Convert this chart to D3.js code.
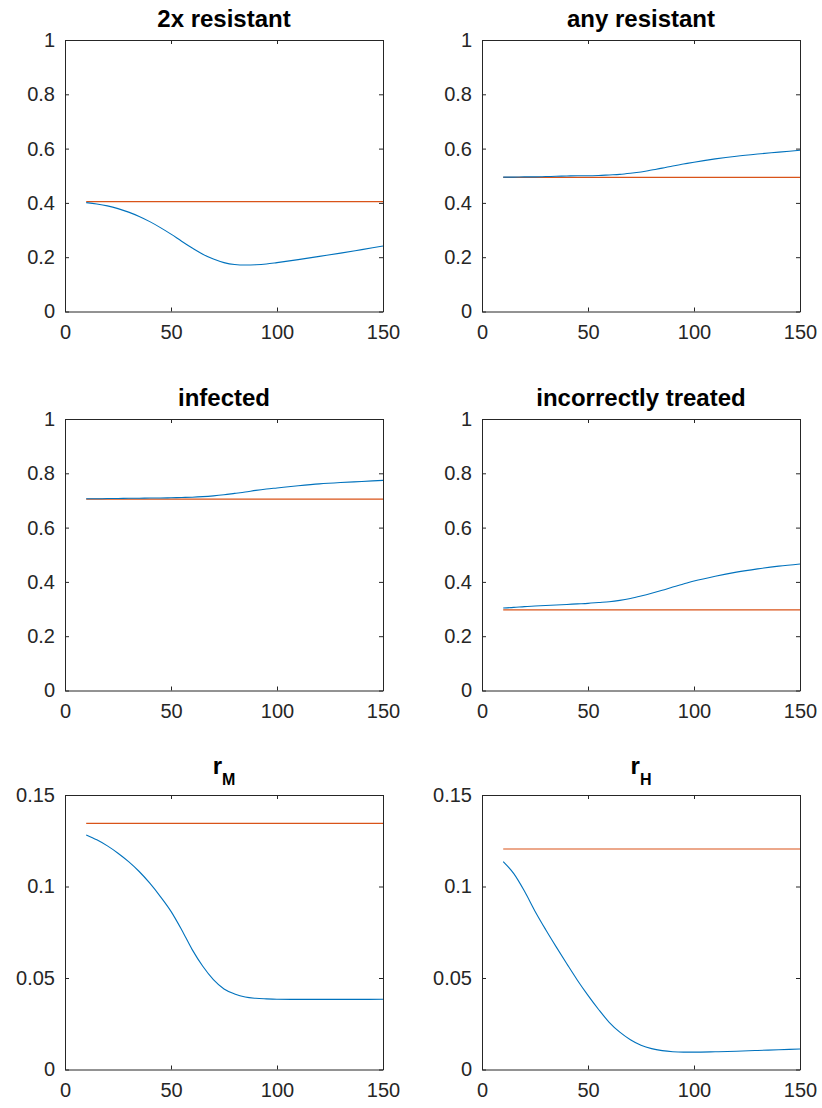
<!DOCTYPE html>
<html>
<head>
<meta charset="utf-8">
<script src="https://cdn.jsdelivr.net/npm/d3@7"></script>
<style>
  html, body { margin: 0; padding: 0; background: #fff; }
  svg { display: block; }
  text { font-family: "Liberation Sans", Arial, Helvetica, sans-serif; }
</style>
</head>
<body>
<svg id="chart" width="822" height="1108"></svg>
<script>
// ---- data ----
const xs = [10,15,20,25,30,35,40,45,50,55,60,65,70,75,80,85,90,95,100,110,120,130,140,150];

const twoxResistant   = [0.401,0.396,0.389,0.379,0.366,0.350,0.331,0.309,0.285,0.259,0.234,0.211,0.193,0.180,0.173,0.171,0.172,0.175,0.180,0.191,0.203,0.215,0.228,0.241];
const anyResistant    = [0.495,0.495,0.496,0.496,0.497,0.498,0.499,0.500,0.500,0.501,0.503,0.505,0.509,0.514,0.521,0.528,0.536,0.543,0.550,0.562,0.572,0.580,0.587,0.594];
const infected        = [0.706,0.706,0.707,0.707,0.708,0.708,0.709,0.709,0.710,0.711,0.712,0.714,0.717,0.721,0.726,0.731,0.737,0.742,0.746,0.754,0.761,0.766,0.770,0.774];
const incorrectly     = [0.304,0.306,0.309,0.311,0.313,0.315,0.317,0.319,0.321,0.324,0.327,0.332,0.339,0.348,0.358,0.369,0.381,0.392,0.403,0.421,0.436,0.448,0.458,0.466];
const rM              = [0.1282,0.1255,0.1222,0.1182,0.1136,0.1082,0.1018,0.0945,0.0864,0.0764,0.0655,0.0564,0.0491,0.0440,0.0413,0.0396,0.0389,0.0386,0.0384,0.0383,0.0383,0.0383,0.0383,0.0384];
const rH              = [0.1136,0.1070,0.0975,0.0865,0.0765,0.0670,0.0578,0.0488,0.0405,0.0328,0.0258,0.0204,0.0163,0.0133,0.0114,0.0103,0.0097,0.0095,0.0095,0.0097,0.0100,0.0104,0.0108,0.0112];

const baselineValues = [0.405, 0.494, 0.705, 0.297, 0.1345, 0.1205];

const titles = ["2x resistant", "any resistant", "infected", "incorrectly treated", "r|M", "r|H"];

const xTicks = [0, 50, 100, 150];
const xTickLabels = ["0", "50", "100", "150"];
const yTicksFrac = [0, 0.2, 0.4, 0.6, 0.8, 1];
const yTickLabelsFrac = ["0", "0.2", "0.4", "0.6", "0.8", "1"];
const yTicksRate = [0, 0.05, 0.1, 0.15];
const yTickLabelsRate = ["0", "0.05", "0.1", "0.15"];

const seriesList = [twoxResistant, anyResistant, infected, incorrectly, rM, rH];

// ---- layout ----
const colX = [[65, 383], [482, 800]];
const rowY = [[40, 311.5], [419, 690.5], [795, 1069.5]];
const axisColor = "#262626";
const blue = "#0072BD";
const orange = "#D95319";

const svg = d3.select("#chart");

seriesList.forEach((series, i) => {
  const row = Math.floor(i / 2), col = i % 2;
  const [x0, x1] = colX[col];
  const [y0, y1] = rowY[row];
  const isRate = row === 2;
  const yT = isRate ? yTicksRate : yTicksFrac;
  const yL = isRate ? yTickLabelsRate : yTickLabelsFrac;

  const x = d3.scaleLinear().domain([0, 150]).range([x0, x1]);
  const y = d3.scaleLinear().domain([0, isRate ? 0.15 : 1]).range([y1, y0]);

  const g = svg.append("g");

  // lines
  const line = d3.line().x((d, k) => x(xs[k])).y(d => y(d)).curve(d3.curveMonotoneX);
  const base = xs.map(() => baselineValues[i]);
  g.append("path").datum(base)
    .attr("d", line).attr("fill", "none")
    .attr("stroke", orange).attr("stroke-width", 1.2);
  g.append("path").datum(series)
    .attr("d", line).attr("fill", "none")
    .attr("stroke", blue).attr("stroke-width", 1.1);

  const xFmt = (d) => xTickLabels[xTicks.indexOf(d)];
  const yFmt = (d) => yL[yT.indexOf(d)];

  const styleAxis = (sel) => {
    sel.selectAll("path.domain").attr("stroke", axisColor).attr("stroke-width", 1);
    sel.selectAll(".tick line").attr("stroke", axisColor).attr("stroke-width", 1);
    sel.selectAll(".tick text").attr("fill", axisColor).style("font-size", "20px")
      .style("font-family", "'Liberation Sans', Arial, Helvetica, sans-serif");
  };

  g.append("g").attr("transform", `translate(0,${y1})`)
    .call(d3.axisBottom(x).tickValues(xTicks).tickFormat(xFmt).tickSizeInner(-4).tickSizeOuter(0).tickPadding(13))
    .call(styleAxis);
  g.append("g").attr("transform", `translate(0,${y0})`)
    .call(d3.axisTop(x).tickValues(xTicks).tickFormat("").tickSizeInner(-4).tickSizeOuter(0))
    .call(styleAxis);
  g.append("g").attr("transform", `translate(${x0},0)`)
    .call(d3.axisLeft(y).tickValues(yT).tickFormat(yFmt).tickSizeInner(-4).tickSizeOuter(0).tickPadding(10))
    .call(styleAxis);
  g.append("g").attr("transform", `translate(${x1},0)`)
    .call(d3.axisRight(y).tickValues(yT).tickFormat("").tickSizeInner(-4).tickSizeOuter(0))
    .call(styleAxis);

  // title
  const cx = (x0 + x1) / 2;
  const t = titles[i];
  if (t.includes("|")) {
    const [main, sub] = t.split("|");
    const tt = g.append("text").attr("x", cx).attr("y", y0 - 21)
      .attr("text-anchor", "middle").attr("font-weight", "bold")
      .attr("fill", "#000").style("font-size", "24px");
    tt.append("tspan").text(main);
    tt.append("tspan").attr("dy", 11).style("font-size", "16px").text(sub);
  } else {
    g.append("text").attr("x", cx).attr("y", y0 - 13.5)
      .attr("text-anchor", "middle").attr("font-weight", "bold")
      .attr("fill", "#000").style("font-size", "24px").text(t);
  }
});
</script>
</body>
</html>
